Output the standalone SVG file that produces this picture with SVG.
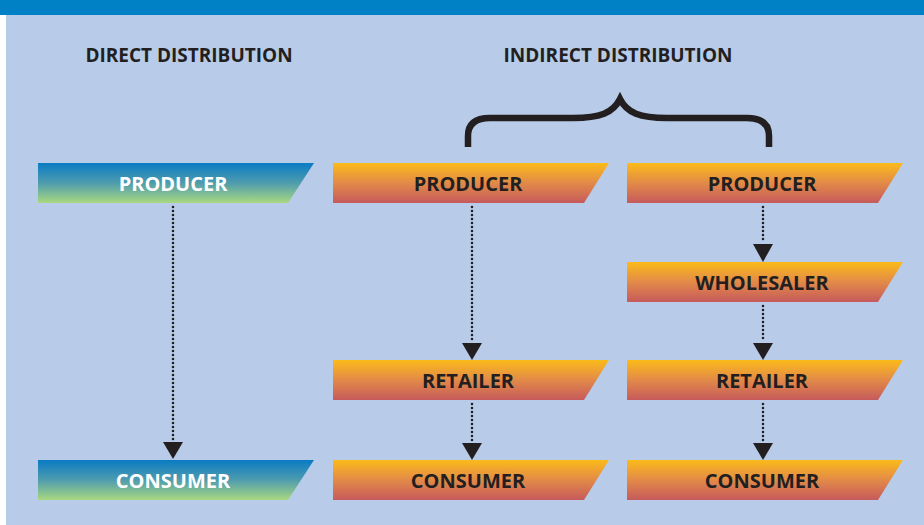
<svg xmlns="http://www.w3.org/2000/svg" width="924" height="525" viewBox="0 0 924 525">
<style>
.hdr{font-family:"Open Sans","Liberation Sans",sans-serif;font-weight:bold;font-size:19px;fill:#231f20;text-anchor:middle}
.lbl{font-family:"Open Sans","Liberation Sans",sans-serif;font-weight:bold;font-size:20px;text-anchor:middle}
.dk{fill:#231f20}
.wt{fill:#ffffff}
.dot{stroke:#231f20;stroke-width:2.6;stroke-linecap:round;stroke-dasharray:0 4;fill:none}
.head{fill:#231f20}
</style>
<defs>
<linearGradient id="gBlue" x1="0" y1="0" x2="0" y2="1">
<stop offset="0" stop-color="#0a7bc4"/>
<stop offset="0.5" stop-color="#4f9cae"/>
<stop offset="1" stop-color="#a9d880"/>
</linearGradient>
<linearGradient id="gOr" x1="0" y1="0" x2="0" y2="1">
<stop offset="0" stop-color="#fbbb1a"/>
<stop offset="0.5" stop-color="#e28a48"/>
<stop offset="1" stop-color="#c65a5c"/>
</linearGradient>
</defs>
<rect x="0" y="0" width="924" height="525" fill="#ffffff"/>
<rect x="6" y="15" width="918" height="510" fill="#b8cce9"/>
<rect x="0" y="0" width="924" height="15" fill="#0081c6"/>

<text class="hdr" x="189" y="62">DIRECT DISTRIBUTION</text>
<text class="hdr" x="618" y="62">INDIRECT DISTRIBUTION</text>

<path d="M468,147 V136 Q468,118 490,118 H573 C600,118 613,113 620,99 C627,113 640,118 667,118 H747 Q769,118 769,136 V147" fill="none" stroke="#231f20" stroke-width="6.5"/>

<g id="connectors">
<line class="dot" x1="173" y1="207" x2="173" y2="440"/>
<polygon class="head" points="163,442 183,442 173,459"/>
<line class="dot" x1="472" y1="207" x2="472" y2="341"/>
<polygon class="head" points="462,343 482,343 472,360"/>
<line class="dot" x1="472" y1="404" x2="472" y2="441"/>
<polygon class="head" points="462,443 482,443 472,460"/>
<line class="dot" x1="763" y1="207" x2="763" y2="242"/>
<polygon class="head" points="753,244 773,244 763,262"/>
<line class="dot" x1="763" y1="306" x2="763" y2="341"/>
<polygon class="head" points="753,343 773,343 763,360"/>
<line class="dot" x1="763" y1="404" x2="763" y2="441"/>
<polygon class="head" points="753,443 773,443 763,460"/>
</g>

<g id="direct-producer">
<polygon points="38,163 314,163 288,203 38,203" fill="url(#gBlue)"/>
<text class="lbl wt" x="173" y="191">PRODUCER</text>
</g>
<g id="direct-consumer">
<polygon points="38,460 314,460 288,500 38,500" fill="url(#gBlue)"/>
<text class="lbl wt" x="173" y="488">CONSUMER</text>
</g>

<g id="ind1-producer">
<polygon points="333,163 609,163 584,203 333,203" fill="url(#gOr)"/>
<text class="lbl dk" x="468" y="191">PRODUCER</text>
</g>
<g id="ind1-retailer">
<polygon points="333,360 609,360 584,400 333,400" fill="url(#gOr)"/>
<text class="lbl dk" x="468" y="388">RETAILER</text>
</g>
<g id="ind1-consumer">
<polygon points="333,460 609,460 584,500 333,500" fill="url(#gOr)"/>
<text class="lbl dk" x="468" y="488">CONSUMER</text>
</g>

<g id="ind2-producer">
<polygon points="627,163 903,163 878,203 627,203" fill="url(#gOr)"/>
<text class="lbl dk" x="762" y="191">PRODUCER</text>
</g>
<g id="ind2-wholesaler">
<polygon points="627,262 903,262 878,302 627,302" fill="url(#gOr)"/>
<text class="lbl dk" x="762" y="290">WHOLESALER</text>
</g>
<g id="ind2-retailer">
<polygon points="627,360 903,360 878,400 627,400" fill="url(#gOr)"/>
<text class="lbl dk" x="762" y="388">RETAILER</text>
</g>
<g id="ind2-consumer">
<polygon points="627,460 903,460 878,500 627,500" fill="url(#gOr)"/>
<text class="lbl dk" x="762" y="488">CONSUMER</text>
</g>
</svg>
